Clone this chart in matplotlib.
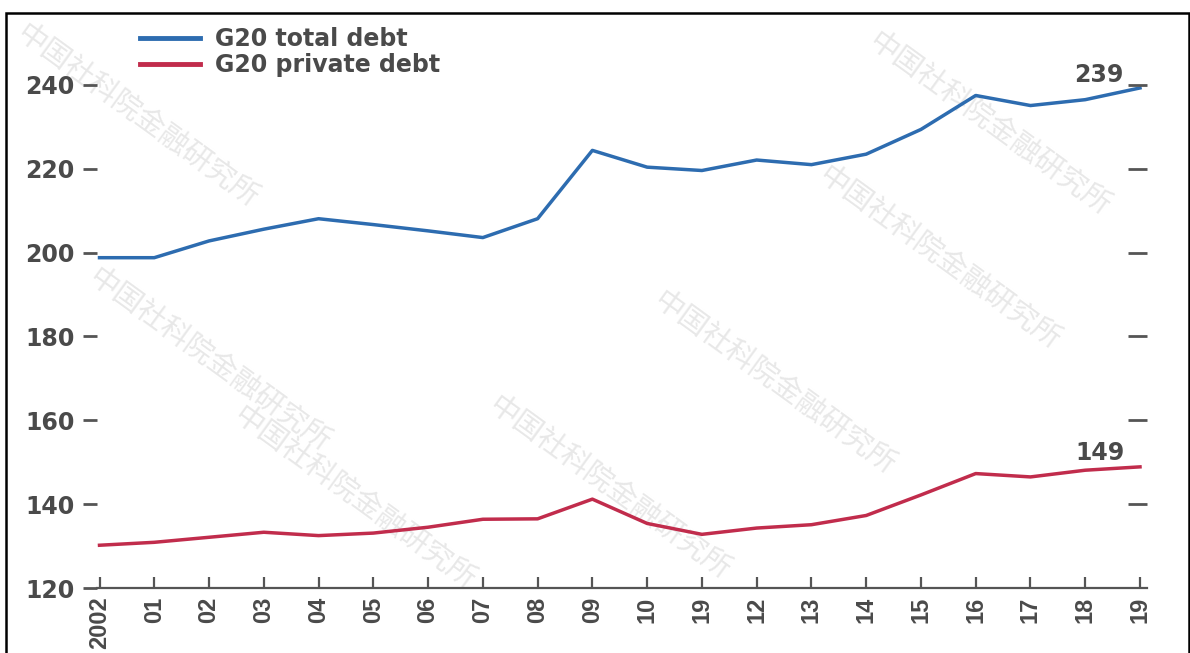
import matplotlib
matplotlib.use("Agg")
import matplotlib.pyplot as plt
from matplotlib.patches import Rectangle

years = ["2002", "01", "02", "03", "04", "05", "06", "07", "08", "09",
         "10", "19", "12", "13", "14", "15", "16", "17", "18", "19"]
total_debt = [198.8, 198.8, 202.8, 205.6, 208.1, 206.7, 205.2, 203.6, 208.1, 224.4,
              220.4, 219.6, 222.1, 221.0, 223.5, 229.4, 237.5, 235.1, 236.5, 239.3]
private_debt = [130.2, 130.9, 132.1, 133.3, 132.5, 133.1, 134.5, 136.4, 136.5, 141.2,
                135.4, 132.8, 134.3, 135.1, 137.3, 142.2, 147.3, 146.5, 148.1, 148.9]
yticks = [120, 140, 160, 180, 200, 220, 240]
series_names = ["G20 total debt", "G20 private debt"]
end_labels = ["239", "149"]

W, H = 1190, 653
fig = plt.figure(figsize=(W / 100, H / 100), dpi=100)

# border box
fig.patches.append(Rectangle((6 / W, -0.01), (W - 7.5) / W, 1.01 - 13 / H, transform=fig.transFigure,
                             fill=False, edgecolor="black", linewidth=1.8))

# faint watermarks
wm = "中国社科院金融研究所"
wm_pos = [(28, 18), (665, 285), (500, 390), (830, 160), (100, 262), (880, 26), (245, 400)]
for (px, py) in wm_pos:
    fig.text(px / W, 1 - py / H, wm, family=["Noto Sans CJK SC", "DejaVu Sans"], fontsize=21,
             color="#e8e8e8", rotation=-36, rotation_mode="anchor",
             ha="left", va="top", zorder=-10)

ax_l, ax_r, ax_b, ax_t = 97, 1147, 588, 60
ax = fig.add_axes([ax_l / W, 1 - ax_b / H, (ax_r - ax_l) / W, (ax_b - ax_t) / H])
ax.patch.set_alpha(0)

x = list(range(len(years)))
blue = "#2d6cb0"
red = "#c12c4c"
ax.plot(x, total_debt, color=blue, lw=2.5, label=series_names[0], solid_joinstyle="round")
ax.plot(x, private_debt, color=red, lw=2.5, label=series_names[1], solid_joinstyle="round")

tc = "#4a4a4a"
gc = "#555555"
ax.set_xticks(x)
ax.set_xticklabels(years, rotation=90, fontsize=17, color=tc, family="Liberation Sans",
                   fontweight="bold")
ax.tick_params(axis="x", direction="in", length=8, width=1.6, color=gc, pad=6)

ax.set_yticks(yticks)
ax.set_yticklabels([str(v) for v in yticks], fontsize=17, color=tc, family="DejaVu Sans",
                   fontweight="bold")
ax.tick_params(axis="y", direction="out", length=10, width=2.0, color=gc, pad=6,
               left=True, right=False)

pyu = (588 - 85) / 120
ymax = 120 + (ax_b - ax_t) / pyu

# right-hand unlabeled ticks
ax2 = ax.twinx()
ax2.set_ylim(120, ymax)
ax2.set_yticks(yticks[1:])
ax2.set_yticklabels([])
ax2.tick_params(axis="y", direction="in", length=14, width=2.0, color=gc)
for s in ["left", "right", "top", "bottom"]:
    ax2.spines[s].set_visible(False)

pxu = (1140 - 99.5) / 19
ax.set_xlim(-(99.5 - ax_l) / pxu, 19 + (ax_r - 1140) / pxu)
ax.set_ylim(120, ymax)

for s in ["left", "right", "top"]:
    ax.spines[s].set_visible(False)
ax.spines["bottom"].set_color(gc)
ax.spines["bottom"].set_linewidth(1.6)

ax.text(19 - 17 / pxu, 240.7, end_labels[0], fontsize=17, color=tc, ha="right", va="baseline",
        family="DejaVu Sans", fontweight="bold")
ax.text(19 - 15 / pxu, 150.5, end_labels[1], fontsize=17, color=tc, ha="right", va="baseline",
        family="DejaVu Sans", fontweight="bold")

leg = fig.legend(*ax.get_legend_handles_labels(), loc="upper left",
                 bbox_to_anchor=(140 / W, 1 - 27 / H), bbox_transform=fig.transFigure,
                 frameon=False, handlelength=2.55, handletextpad=0.62,
                 labelspacing=0.08, borderaxespad=0, borderpad=0,
                 prop={"family": "DejaVu Sans", "weight": "bold", "size": 17})
for t in leg.get_texts():
    t.set_color(tc)
for l in leg.get_lines():
    l.set_linewidth(3.5)

fig.savefig("out.png", dpi=100)
